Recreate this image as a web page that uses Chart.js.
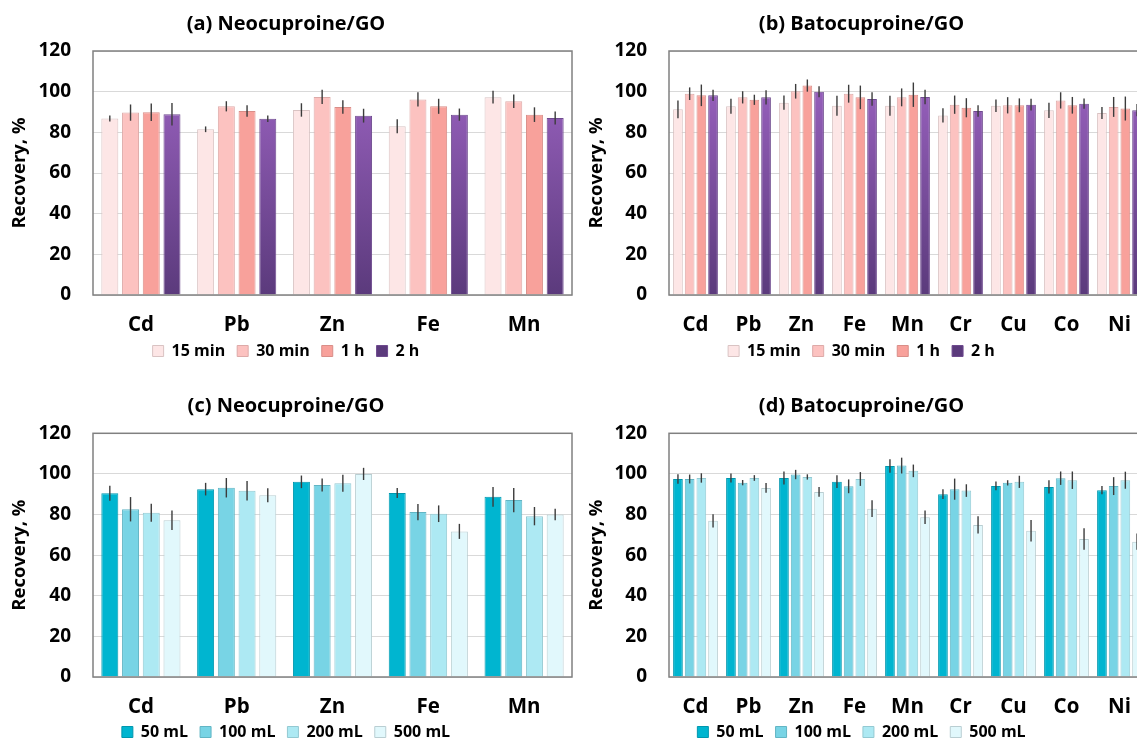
<!DOCTYPE html>
<html>
<head>
<meta charset="utf-8">
<script src="https://cdn.jsdelivr.net/npm/chart.js@4.4.1/dist/chart.umd.min.js"></script>
<style>
    html, body { margin: 0; padding: 0; background: #fff; overflow: hidden; width: 1137px; height: 740px; }
    canvas { position: absolute; }
</style>
</head>
<body>
<canvas id="chartA" width="580" height="370" style="left:0;top:0"></canvas>
<canvas id="chartB" width="574" height="370" style="left:577px;top:0"></canvas>
<canvas id="chartC" width="580" height="370" style="left:0;top:370px"></canvas>
<canvas id="chartD" width="574" height="370" style="left:577px;top:370px"></canvas>
<script>
// categories
const metalsNeo = ['Cd', 'Pb', 'Zn', 'Fe', 'Mn'];
const metalsBato = ['Cd', 'Pb', 'Zn', 'Fe', 'Mn', 'Cr', 'Cu', 'Co', 'Ni'];
const timeNames = ['15 min', '30 min', '1 h', '2 h'];
const volumeNames = ['50 mL', '100 mL', '200 mL', '500 mL'];
const yMin = 0, yMax = 120, yStep = 20;

// (a) Neocuproine/GO, contact time
const neoT15 = [86.8, 81.5, 91.0, 83.0, 97.3];
const neoT30 = [89.7, 92.8, 97.4, 96.2, 95.3];
const neoT1h = [89.9, 90.5, 92.5, 92.8, 88.7];
const neoT2h = [88.9, 86.7, 88.2, 88.7, 87.1];
const neoT15Err = [1.5, 1.4, 3.3, 3.4, 3.1];
const neoT30Err = [4.0, 2.5, 3.5, 3.5, 3.3];
const neoT1hErr = [4.3, 2.8, 3.3, 3.7, 3.6];
const neoT2hErr = [5.5, 1.6, 3.4, 3.0, 3.2];

// (b) Batocuproine/GO, contact time
const batT15 = [91.3, 92.8, 94.6, 93.1, 93.1, 88.3, 93.1, 90.8, 89.5];
const batT30 = [99.0, 97.2, 100.2, 99.0, 97.2, 93.6, 93.3, 95.7, 92.5];
const batT1h = [98.2, 96.0, 103.0, 97.2, 98.5, 92.1, 93.3, 93.3, 91.7];
const batT2h = [98.2, 97.2, 100.0, 96.4, 97.4, 90.5, 93.6, 94.1, 90.9];
const batT15Err = [4.4, 3.7, 3.5, 4.9, 4.9, 3.5, 3.1, 3.7, 3.0];
const batT30Err = [3.1, 3.0, 3.6, 4.4, 4.4, 4.5, 4.0, 4.0, 4.9];
const batT1hErr = [5.3, 2.5, 3.0, 5.8, 6.0, 4.7, 3.4, 4.1, 5.9];
const batT2hErr = [2.8, 3.5, 2.7, 3.3, 3.6, 2.8, 2.9, 2.5, 3.0];

// (c) Neocuproine/GO, sample volume
const neoV50 = [90.5, 92.5, 96.1, 90.6, 88.7];
const neoV100 = [82.6, 93.2, 94.6, 81.2, 87.1];
const neoV200 = [80.9, 91.7, 95.4, 80.4, 79.2];
const neoV500 = [77.2, 89.5, 100.0, 71.7, 80.0];
const neoV50Err = [3.7, 3.1, 3.1, 2.5, 4.9];
const neoV100Err = [6.0, 4.8, 3.2, 4.0, 6.0];
const neoV200Err = [4.4, 4.8, 4.2, 4.1, 4.5];
const neoV500Err = [4.8, 3.5, 3.0, 3.7, 2.8];

// (d) Batocuproine/GO, sample volume
const batV50 = [97.5, 98.0, 98.0, 96.2, 103.9, 90.0, 94.1, 93.6, 92.0];
const batV100 = [97.5, 95.7, 99.7, 93.9, 104.1, 92.5, 95.6, 97.9, 94.0];
const batV200 = [98.0, 98.0, 98.5, 97.5, 101.5, 91.8, 96.1, 96.9, 96.9];
const batV500 = [76.9, 93.1, 91.1, 82.9, 78.7, 74.9, 72.0, 68.0, 66.6];
const batV50Err = [2.3, 2.2, 3.2, 3.1, 3.3, 2.4, 2.2, 3.3, 2.0];
const batV100Err = [2.2, 1.3, 2.3, 3.4, 3.9, 5.2, 1.3, 3.3, 4.4];
const batV200Err = [2.3, 1.4, 1.3, 3.4, 3.1, 3.1, 3.0, 4.3, 4.2];
const batV500Err = [3.3, 2.4, 2.4, 4.1, 3.3, 4.3, 5.3, 5.3, 4.0];

Chart.defaults.font.family = '"Open Sans"';
Chart.defaults.font.weight = 'bold';
Chart.defaults.color = '#000';

function purpleFill(context) {
    const chart = context.chart;
    const area = chart.chartArea;
    if (!area) return '#7D4CA2';
    const g = chart.ctx.createLinearGradient(0, area.top, 0, area.bottom);
    g.addColorStop(0, '#A066C6');
    g.addColorStop(1, '#5B3A7C');
    return g;
}

const timeFills = ['#FDE6E6', '#FCC2C0', '#F8A19B', purpleFill];
const timeBorders = ['#D9C3C3', '#DDAAA8', '#D98E88', '#6E4A8E'];
const volumeFills = ['#00B5D0', '#78D4E5', '#ADE9F3', '#E1F8FC'];
const volumeBorders = ['#0097AE', '#62B5C4', '#93C9D2', '#B9CED2'];

// frame around plot area, error bars, legend size/position tweaks
const framePlugin = {
    id: 'frame',
    beforeLayout(chart) {
        const lg = chart.legend;
        if (lg && !lg._patched) {
            const fit = lg.fit;
            lg.fit = function () {
                fit.call(this);
                this.height = chart.options.legendHeight;
            };
            lg._patched = true;
        }
    },
    afterLayout(chart) {
        // move the legend up, keep its bottom so the clip box still holds the text
        chart.legend.top -= chart.options.legendShift;
    },
    afterDatasetsDraw(chart) {
        const { ctx, chartArea: a, scales } = chart;
        ctx.save();
        ctx.strokeStyle = '#3C3C3C';
        ctx.lineWidth = 1.4;
        chart.data.datasets.forEach((ds, i) => {
            const meta = chart.getDatasetMeta(i);
            meta.data.forEach((bar, j) => {
                const v = ds.data[j], e = ds.errors[j];
                ctx.beginPath();
                ctx.moveTo(bar.x, scales.y.getPixelForValue(v - e));
                ctx.lineTo(bar.x, scales.y.getPixelForValue(v + e));
                ctx.stroke();
            });
        });
        ctx.strokeStyle = '#808080';
        ctx.lineWidth = 1.5;
        ctx.strokeRect(a.left, a.top, a.right - a.left, a.bottom - a.top);
        ctx.restore();
    }
};

function buildChart(id, title, labels, names, series, errors, fills, borders, cfg) {
    const datasets = names.map((n, i) => ({
        label: n,
        data: series[i],
        errors: errors[i],
        backgroundColor: fills[i],
        borderColor: borders[i],
        borderWidth: 1,
        categoryPercentage: cfg.catPct,
        barPercentage: cfg.barPct
    }));
    return new Chart(document.getElementById(id), {
        type: 'bar',
        data: { labels: labels, datasets: datasets },
        plugins: [framePlugin],
        options: {
            responsive: false,
            animation: false,
            legendHeight: cfg.legendHeight,
            legendShift: cfg.legendShift,
            layout: { padding: { left: 0, right: cfg.padRight, top: 0, bottom: 0 } },
            plugins: {
                title: {
                    display: true,
                    text: title,
                    font: { size: 20, weight: 'bold' },
                    padding: { top: cfg.titleTop, bottom: cfg.titleBottom }
                },
                legend: {
                    position: 'bottom',
                    labels: {
                        boxWidth: 11,
                        boxHeight: 11,
                        padding: 12,
                        font: { size: 16, weight: 'bold' }
                    }
                },
                tooltip: { enabled: false }
            },
            scales: {
                x: {
                    grid: { display: false },
                    border: { display: false },
                    ticks: { padding: 10, font: { size: 20.5, weight: 'bold' } },
                    afterFit(scale) { scale.height = 42; }
                },
                y: {
                    min: yMin,
                    max: yMax,
                    grid: { color: '#D9D9D9', lineWidth: 1, drawTicks: false },
                    border: { display: false },
                    ticks: { stepSize: yStep, padding: 22, font: { size: 19, weight: 'bold' } },
                    title: {
                        display: true,
                        text: 'Recovery, %',
                        font: { size: 18.5, weight: 'bold' },
                        padding: { top: 9, bottom: 0 }
                    },
                    afterFit(scale) { scale.width = cfg.yWidth; }
                }
            }
        }
    });
}

buildChart('chartA', '(a) Neocuproine/GO', metalsNeo, timeNames,
    [neoT15, neoT30, neoT1h, neoT2h], [neoT15Err, neoT30Err, neoT1hErr, neoT2hErr],
    timeFills, timeBorders,
    { yWidth: 93, padRight: 8, titleTop: 12, titleBottom: 15, legendHeight: 33, legendShift: 6, catPct: 0.865, barPct: 0.82 });

buildChart('chartB', '(b) Batocuproine/GO', metalsBato, timeNames,
    [batT15, batT30, batT1h, batT2h], [batT15Err, batT30Err, batT1hErr, batT2hErr],
    timeFills, timeBorders,
    { yWidth: 92, padRight: 5, titleTop: 12, titleBottom: 15, legendHeight: 33, legendShift: 6, catPct: 0.883, barPct: 0.83 });

buildChart('chartC', '(c) Neocuproine/GO', metalsNeo, volumeNames,
    [neoV50, neoV100, neoV200, neoV500], [neoV50Err, neoV100Err, neoV200Err, neoV500Err],
    volumeFills, volumeBorders,
    { yWidth: 93, padRight: 8, titleTop: 24, titleBottom: 15.3, legendHeight: 21, legendShift: 7, catPct: 0.865, barPct: 0.82 });

buildChart('chartD', '(d) Batocuproine/GO', metalsBato, volumeNames,
    [batV50, batV100, batV200, batV500], [batV50Err, batV100Err, batV200Err, batV500Err],
    volumeFills, volumeBorders,
    { yWidth: 92, padRight: 5, titleTop: 24, titleBottom: 15.3, legendHeight: 21, legendShift: 7, catPct: 0.883, barPct: 0.83 });
</script>
</body>
</html>
